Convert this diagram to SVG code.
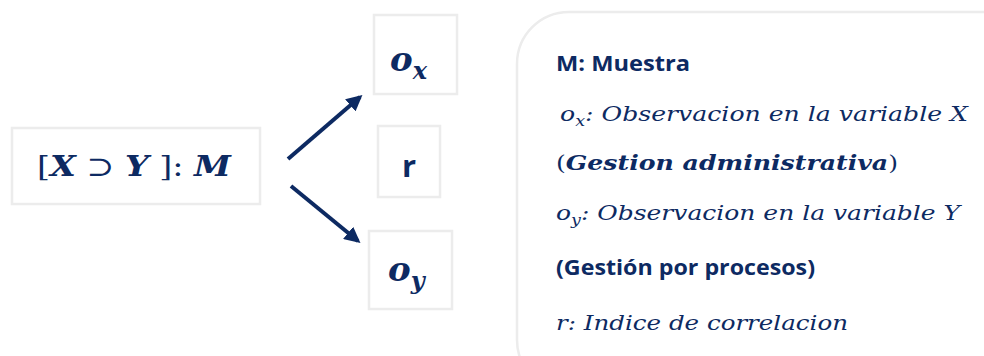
<svg xmlns="http://www.w3.org/2000/svg" width="984" height="356" viewBox="0 0 984 356">
<style>
.box{fill:#fff;stroke:#ececec;stroke-width:2.5}
.m{font-family:"DejaVu Serif","Liberation Serif",serif;fill:#0d2a62}
.s{font-family:"Open Sans","Liberation Sans",sans-serif;font-weight:bold;fill:#0d2a62}
.bi{font-style:italic;font-weight:bold}
.i{font-style:italic}
.con{stroke:#0d2a62;stroke-width:4;fill:none;marker-end:url(#ah)}
</style>
<defs>
<marker id="ah" viewBox="0 0 10 10" refX="8" refY="5" markerWidth="4" markerHeight="4" orient="auto" markerUnits="strokeWidth">
<path d="M0,0 L10,5 L0,10 z" fill="#0d2a62"/>
</marker>
</defs>
<rect width="984" height="356" fill="#fff"/>
<g id="panel">
<rect class="box" x="517" y="12" width="520" height="380" rx="52"/>
<text class="s" x="556" y="71" font-size="21" textLength="134" lengthAdjust="spacingAndGlyphs">M: Muestra</text>
<text class="m i" x="560" y="121" font-size="20" textLength="408" lengthAdjust="spacingAndGlyphs">o<tspan font-size="14" dy="5">x</tspan><tspan dy="-5">: Observacion en la variable  X</tspan></text>
<text class="m" x="556" y="170" font-size="21" textLength="342" lengthAdjust="spacingAndGlyphs">(<tspan class="bi">Gestion administrativa</tspan>)</text>
<text class="m i" x="556" y="220" font-size="20" textLength="404" lengthAdjust="spacingAndGlyphs">o<tspan font-size="14" dy="5">y</tspan><tspan dy="-5">: Observacion en la variable Y</tspan></text>
<text class="s" x="556" y="275" font-size="21" textLength="259" lengthAdjust="spacingAndGlyphs">(Gestión por procesos)</text>
<text class="m i" x="556" y="330" font-size="20" textLength="292" lengthAdjust="spacingAndGlyphs">r: Indice de correlacion</text>
</g>
<g id="sample">
<rect class="box" x="12" y="128" width="248" height="76"/>
<text class="m" x="37" y="176" font-size="28" textLength="194" lengthAdjust="spacingAndGlyphs">[<tspan class="bi">X</tspan> ⊃ <tspan class="bi">Y</tspan> ]: <tspan class="bi">M</tspan></text>
</g>
<g id="ox">
<rect class="box" x="374" y="15" width="83" height="79"/>
<text class="m bi" x="390" y="71" font-size="34">o<tspan font-size="24" dy="8">x</tspan></text>
</g>
<g id="r">
<rect class="box" x="378" y="126" width="62" height="71"/>
<text class="s" x="409" y="177" font-size="31" text-anchor="middle">r</text>
</g>
<g id="oy">
<rect class="box" x="369" y="231" width="83" height="78"/>
<text class="m bi" x="388" y="281" font-size="34">o<tspan font-size="24" dy="8">y</tspan></text>
</g>
<g id="connectors">
<line class="con" x1="288" y1="159" x2="360" y2="97"/>
<line class="con" x1="291" y1="186" x2="358" y2="241"/>
</g>
</svg>
